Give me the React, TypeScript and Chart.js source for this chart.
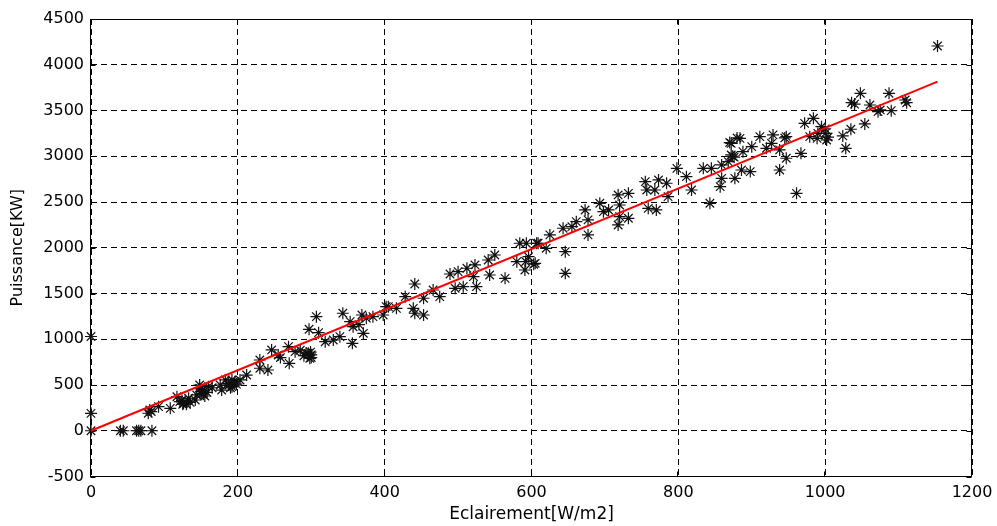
import React, { useEffect, useRef } from "react";
import { Chart, registerables } from "chart.js";

Chart.register(...registerables);

// Irradiance [W/m2] of each measurement
const irradiance: number[] = [
  0, 0, 0, 40, 44, 62, 65, 68, 83,
  78, 80, 82, 92, 108, 117, 121, 124, 126, 130, 133, 135, 142, 144, 148, 148, 151, 152, 155, 158, 160, 165, 176, 178, 183, 187, 190, 192, 192, 196, 198, 203,
  125, 128, 150, 153, 188, 195,
  212, 230, 230, 241, 246, 255, 258, 269, 270, 278, 285, 296, 297, 298, 300, 307, 310, 319, 330, 339, 343, 353, 356, 357, 365, 369, 371, 375, 384, 398, 402,
  290, 293, 300, 299,
  405, 416, 428, 439, 441, 441, 453, 453, 466, 475, 489, 496, 500, 507, 512, 521, 523, 525, 541, 543, 550, 564, 580, 584, 591, 593, 596, 605, 607,
  592, 603,
  609, 620, 625, 643, 646, 646, 655, 661, 673, 677, 677, 693, 698, 705, 718, 718, 720, 720, 732, 732, 755, 757, 759, 768, 770, 773, 784, 786, 798, 811,
  818, 834, 843, 845, 857, 859, 859, 868, 872, 872, 877, 884, 886, 888, 898, 900, 911, 920, 927, 929, 938, 938, 947, 947, 961, 967, 972, 979, 984, 989, 995, 1000, 1002,
  870, 874, 876, 880, 945, 990, 1000, 1004,
  1024, 1028, 1035, 1036, 1040, 1048, 1054, 1061, 1072, 1075, 1087, 1090, 1109, 1111, 1153,
];

// Measured power [kW] of each measurement
const power: number[] = [
  1030, 190, 0, 0, 0, 0, 0, 0, 0,
  191, 227, 210, 263, 245, 372, 318, 330, 300, 290, 355, 310, 336, 391, 464, 500, 409, 445, 380, 420, 482, 470, 500, 445, 555, 518, 470, 482, 555, 536, 510, 555,
  290, 320, 430, 400, 500, 520,
  609, 773, 683, 664, 883, 828, 800, 919, 737, 864, 880, 846, 1109, 792, 830, 1247, 1072, 973, 992, 1028, 1284, 1192, 956, 1137, 1160, 1265, 1065, 1230, 1247, 1265, 1356,
  820, 850, 800, 860,
  1356, 1338, 1465, 1338, 1604, 1284, 1448, 1265, 1538, 1465, 1713, 1557, 1739, 1575, 1776, 1684, 1812, 1575, 1866, 1702, 1921, 1666, 1848, 2049, 1757, 2049, 1902, 1830, 2049,
  1850, 1820,
  2049, 1994, 2140, 2213, 1957, 1721, 2230, 2285, 2413, 2304, 2140, 2486, 2394, 2413, 2577, 2249, 2467, 2340, 2595, 2322, 2722, 2631, 2431, 2631, 2413, 2741, 2705, 2558, 2868, 2777,
  2631, 2868, 2486, 2868, 2668, 2905, 2759, 2941, 3141, 3014, 2759, 3196, 2850, 3050, 2832, 3105, 3214, 3087, 3141, 3233, 3069, 2850, 3214, 2978, 2595, 3032, 3360, 3214, 3415, 3196, 3323, 3250, 3178,
  3150, 3000, 2990, 3200, 3200, 3250, 3300, 3210,
  3222, 3087, 3295, 3585, 3570, 3688, 3353, 3560, 3487, 3506, 3688, 3498, 3615, 3585, 4205,
];

// Fitted regression line endpoints
const fitX: number[] = [0, 1153];
const fitY: number[] = [0, 3815];

const xTickMin = 0;
const xTickMax = 1200;
const xTickStep = 200;
const yTickMin = -500;
const yTickMax = 4500;
const yTickStep = 500;

const xTitle = "Eclairement[W/m2]";
const yTitle = "Puissance[KW]";

const boxPlugin = {
  id: "matlabBox",
  beforeDatasetsDraw(chart: any) {
    const { ctx, chartArea: a, scales } = chart;
    const xs = scales.x;
    const ys = scales.y;
    const L = Math.round(a.left) - 0.5;
    const R = Math.round(a.right) - 0.5;
    const T = Math.round(a.top) + 0.5;
    const B = Math.round(a.bottom) - 0.5;
    ctx.save();
    ctx.setLineDash([]);
    ctx.strokeStyle = "#000";
    ctx.lineWidth = 1;
    ctx.strokeRect(L, T, R - L, B - T);
    const tl = 5;
    ctx.beginPath();
    xs.ticks.forEach((t: any) => {
      const px = Math.round(xs.getPixelForValue(t.value)) - 0.5;
      ctx.moveTo(px, B);
      ctx.lineTo(px, B - tl);
      ctx.moveTo(px, T);
      ctx.lineTo(px, T + tl);
    });
    ys.ticks.forEach((t: any) => {
      const py = Math.round(ys.getPixelForValue(t.value)) + 0.5;
      ctx.moveTo(L, py);
      ctx.lineTo(L + tl, py);
      ctx.moveTo(R, py);
      ctx.lineTo(R - tl, py);
    });
    ctx.stroke();
    ctx.restore();
  },
};

export default function App() {
  const ref = useRef<HTMLCanvasElement | null>(null);

  useEffect(() => {
    if (!ref.current) return;
    const points = irradiance.map((x, i) => ({ x, y: power[i] }));
    const fit = fitX.map((x, i) => ({ x, y: fitY[i] }));
    const font = "'DejaVu Sans', 'Liberation Sans', Arial, sans-serif";
    const chart = new Chart(ref.current, {
      type: "scatter",
      data: {
        datasets: [
          {
            label: "mesures",
            data: points,
            pointStyle: "star",
            pointRadius: 6,
            pointBorderWidth: 1.2,
            borderColor: "#111",
            backgroundColor: "#111",
            showLine: false,
            clip: false,
            order: 2,
          },
          {
            label: "régression",
            data: fit,
            showLine: true,
            borderColor: "#ff0000",
            borderWidth: 2,
            pointRadius: 0,
            clip: false,
            order: 1,
          },
        ],
      },
      options: {
        animation: false,
        responsive: false,
        events: [],
        layout: { padding: { top: 19, right: 25, left: 0, bottom: 0 } },
        plugins: {
          legend: { display: false },
          tooltip: { enabled: false },
        },
        scales: {
          x: {
            type: "linear",
            min: xTickMin,
            max: xTickMax,
            afterFit: (s: any) => {
              s.height = 49.5;
              s.paddingRight = 0;
              s.paddingLeft = 0;
            },
            ticks: {
              stepSize: xTickStep,
              color: "#000",
              padding: 7,
              maxRotation: 0,
              callback: (v: any) => String(v),
              font: { family: font, size: 16 },
            },
            grid: {
              color: "#000",
              lineWidth: 1,
              drawTicks: false,
            },
            border: { display: false, dash: [6, 4] },
            title: {
              display: true,
              text: xTitle,
              color: "#000",
              padding: { top: 0, bottom: 1 },
              font: { family: font, size: 17 },
            },
          },
          y: {
            type: "linear",
            min: yTickMin,
            max: yTickMax,
            afterFit: (s: any) => {
              s.width = 91;
              s.paddingTop = 0;
              s.paddingBottom = 0;
            },
            ticks: {
              stepSize: yTickStep,
              color: "#000",
              padding: 7,
              callback: (v: any) => String(v),
              font: { family: font, size: 16 },
            },
            grid: {
              color: "#000",
              lineWidth: 1,
              drawTicks: false,
            },
            border: { display: false, dash: [6, 4] },
            title: {
              display: true,
              text: yTitle,
              color: "#000",
              padding: { top: 8, bottom: 0 },
              font: { family: font, size: 16 },
            },
          },
        },
      },
      plugins: [boxPlugin],
    });
    return () => chart.destroy();
  }, []);

  return (
    <div style={{ position: "absolute", left: 0, top: 0, width: 997, height: 526, background: "#fff" }}>
      <canvas ref={ref} width={997} height={526} style={{ display: "block" }} />
    </div>
  );
}
